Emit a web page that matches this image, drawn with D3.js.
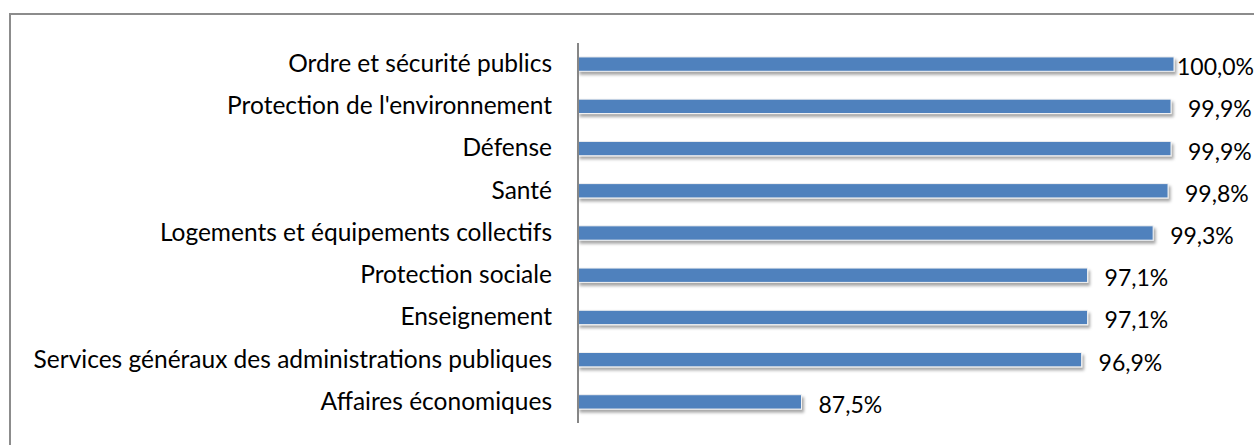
<!DOCTYPE html>
<html>
<head>
<meta charset="utf-8">
<script src="https://cdn.jsdelivr.net/npm/d3@7"></script>
<style>
  html, body { margin: 0; padding: 0; background: #fff; }
  svg { display: block; }
  text { font-family: Lato, "Open Sans", sans-serif; fill: #000; }
</style>
</head>
<body>
<svg id="chart" width="1254" height="445"></svg>
<script>
// Categories, top to bottom
const categories = [
  "Ordre et sécurité publics",
  "Protection de l'environnement",
  "Défense",
  "Santé",
  "Logements et équipements collectifs",
  "Protection sociale",
  "Enseignement",
  "Services généraux des administrations publiques",
  "Affaires économiques"
];
// Share, in percent
const values = [100.0, 99.9, 99.9, 99.8, 99.3, 97.1, 97.1, 96.9, 87.5];
const valueLabels = ["100,0%", "99,9%", "99,9%", "99,8%", "99,3%", "97,1%", "97,1%", "96,9%", "87,5%"];

const W = 1254, H = 445;
const svg = d3.select("#chart");

// shadow under each bar
const defs = svg.append("defs");
const f = defs.append("filter").attr("id", "shadow")
  .attr("x", "-5%").attr("y", "-50%").attr("width", "110%").attr("height", "220%");
f.append("feDropShadow").attr("dx", 2).attr("dy", 3).attr("stdDeviation", 1.8)
  .attr("flood-color", "#000").attr("flood-opacity", 0.35);

// chart frame (top and left edges fall inside the page)
svg.append("rect")
  .attr("x", 10).attr("y", 14).attr("width", 1300).attr("height", 500)
  .attr("fill", "none").attr("stroke", "#8c8c8c").attr("stroke-width", 2);

const x = d3.scaleLinear().domain([80, 100]).range([578, 1174]);
const y = d3.scaleBand().domain(categories).range([43, 423]).paddingInner(0.66).paddingOuter(0.33);

// bars
svg.append("g").selectAll("rect").data(values).join("rect")
  .attr("x", x(80))
  .attr("y", (d, i) => y(categories[i]))
  .attr("width", d => x(d) - x(80))
  .attr("height", y.bandwidth())
  .attr("fill", "#4f81bd")
  .attr("stroke", "#f2f2f2").attr("stroke-width", 1)
  .attr("filter", "url(#shadow)");

// category axis
const yAxis = svg.append("g").attr("transform", `translate(${x(80)},0)`)
  .call(d3.axisLeft(y).tickSize(0).tickPadding(26));
yAxis.select(".domain").attr("stroke", "#868686").attr("stroke-width", 2)
  .attr("d", `M0,43V423`);
yAxis.selectAll("text").style("font-size", "24.5px").attr("font-family", null);

// value labels, kept inside the page on the right
const fs = 23;
const lbl = svg.append("g").selectAll("text").data(values).join("text")
  .attr("y", (d, i) => y(categories[i]) + y.bandwidth() / 2 + 3)
  .attr("dy", "0.35em")
  .style("font-size", fs + "px")
  .text((d, i) => valueLabels[i]);
lbl.attr("x", function(d) {
  const w = this.getComputedTextLength();
  return Math.min(x(d) + 17, W - w);
});
</script>
</body>
</html>
